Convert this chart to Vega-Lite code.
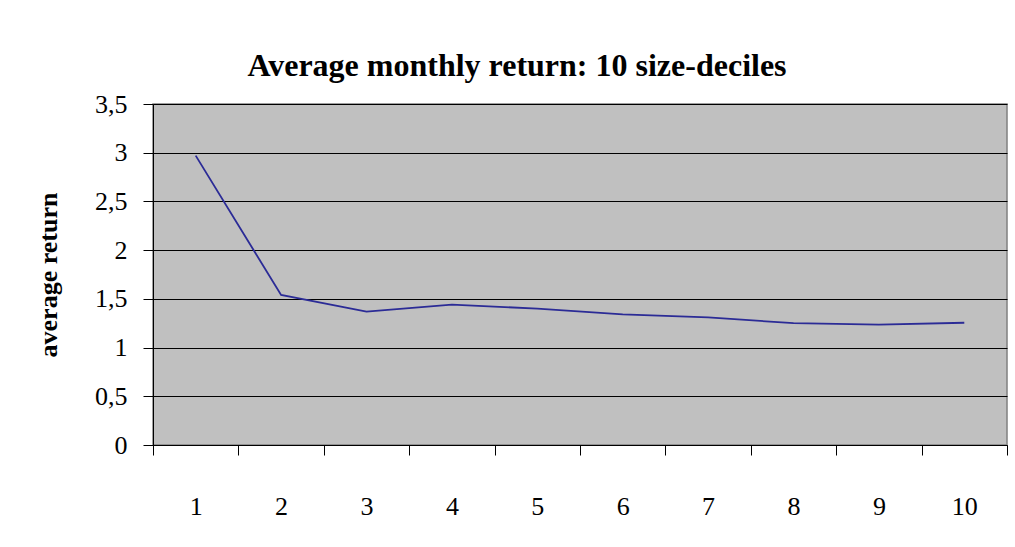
{
  "$schema": "https://vega.github.io/schema/vega-lite/v6.json",
  "width": 854,
  "height": 341,
  "autosize": "none",
  "padding": {"left": 153, "top": 104, "right": 8, "bottom": 102},
  "background": "white",
  "title": {
    "text": "Average monthly return: 10 size-deciles",
    "font": "Liberation Serif",
    "fontSize": 32,
    "fontWeight": "bold",
    "color": "black",
    "anchor": "middle",
    "dx": -63,
    "offset": 8
  },
  "data": {
    "values": [
      {"decile": "1", "ret": 2.97},
      {"decile": "2", "ret": 1.54},
      {"decile": "3", "ret": 1.37},
      {"decile": "4", "ret": 1.44},
      {"decile": "5", "ret": 1.4},
      {"decile": "6", "ret": 1.34},
      {"decile": "7", "ret": 1.31},
      {"decile": "8", "ret": 1.25},
      {"decile": "9", "ret": 1.235},
      {"decile": "10", "ret": 1.255}
    ]
  },
  "mark": {"type": "line", "color": "#2B2B96", "strokeWidth": 1.8},
  "encoding": {
    "x": {
      "field": "decile",
      "type": "ordinal",
      "sort": null,
      "scale": {"paddingInner": 0, "paddingOuter": 0},
      "axis": {
        "title": null,
        "labelAngle": 0,
        "tickBand": "extent",
        "tickSize": 10,
        "tickColor": "black",
        "domainColor": "black",
        "labelPadding": 38,
        "labelFont": "Liberation Serif",
        "labelFontSize": 26,
        "labelColor": "black",
        "grid": false
      }
    },
    "y": {
      "field": "ret",
      "type": "quantitative",
      "scale": {"domain": [0, 3.5], "nice": false},
      "axis": {
        "title": "average return",
        "titleFont": "Liberation Serif",
        "titleFontSize": 26,
        "titleFontWeight": "bold",
        "titleColor": "black",
        "titlePadding": 33,
        "values": [0, 0.5, 1, 1.5, 2, 2.5, 3, 3.5],
        "format": "~g",
        "tickSize": 10,
        "tickColor": "black",
        "domainColor": "black",
        "labelPadding": 16,
        "labelFont": "Liberation Serif",
        "labelFontSize": 26,
        "labelColor": "black",
        "grid": true,
        "gridColor": "black",
        "gridWidth": 1
      }
    }
  },
  "config": {
    "locale": {
      "number": {"decimal": ",", "thousands": ".", "grouping": [3], "currency": ["", " €"]}
    },
    "view": {"fill": "#C0C0C0", "stroke": "#808080", "strokeWidth": 1.5}
  }
}
